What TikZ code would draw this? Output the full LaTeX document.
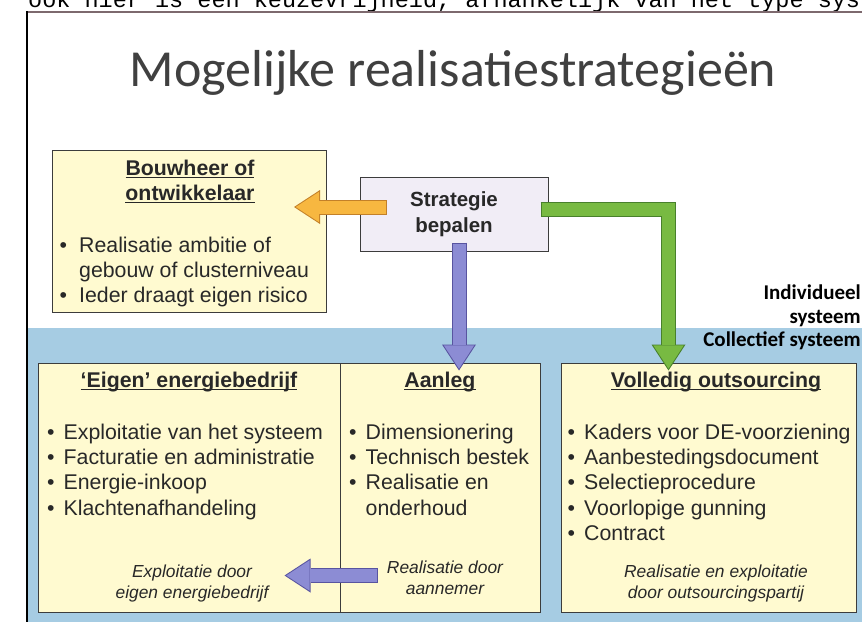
\documentclass[tikz,border=0pt]{standalone}
\usepackage{fontspec}
\setmainfont{Liberation Sans}
\newfontfamily\kopfont{Carlito}
\newfontfamily\typfont{Liberation Mono}
\usetikzlibrary{arrows.meta,positioning,calc}
\definecolor{bandblauw}{RGB}{166,204,227}
\definecolor{vakgeel}{RGB}{255,250,208}
\definecolor{vaklila}{RGB}{241,237,246}
\definecolor{vakrand}{RGB}{60,60,60}
\definecolor{tekstgrijs}{RGB}{40,40,40}
\definecolor{titelgrijs}{RGB}{64,64,64}
\definecolor{kaderrood}{RGB}{125,105,110}
\definecolor{oranje}{RGB}{247,183,64}
\definecolor{oranjerand}{RGB}{195,128,40}
\definecolor{paars}{RGB}{140,140,212}
\definecolor{paarsrand}{RGB}{88,84,160}
\definecolor{groen}{RGB}{120,186,66}
\definecolor{groenrand}{RGB}{72,128,44}
\newcommand{\punt}[1][16.5pt]{\makebox[#1][l]{\textbullet}}
\newcommand{\onder}[1]{\setbox0=\hbox{#1}\rlap{\rule[-2.6pt]{\wd0}{1.1pt}}\box0}
\tikzset{
  optievak/.style={
    draw=vakrand,
    fill=vakgeel,
    line width=1pt,
    inner sep=0pt
  },
  kopje/.style={
    inner sep=0pt,
    align=center,
    text=tekstgrijs,
    font=\bfseries\fontsize{21.3}{25.5}\selectfont
  },
  lijst/.style={
    anchor=north west,
    inner sep=0pt,
    align=left,
    text=tekstgrijs,
    font=\fontsize{21.3}{25.3}\selectfont
  },
  noot/.style={
    anchor=north,
    inner sep=0pt,
    align=center,
    text=tekstgrijs,
    font=\itshape\fontsize{17.4}{20.5}\selectfont
  },
  zijlabel/.style={
    anchor=base east,
    inner sep=0pt,
    text=black,
    font=\kopfont\bfseries\fontsize{21}{24}\selectfont
  },
  pijlrand/.style={
    draw=#1,
    line width=15pt,
    -{Triangle[length=26pt,width=34pt,line width=0pt]}
  },
  pijlvul/.style={
    draw=#1,
    line width=13pt,
    shorten >=1.83pt,
    shorten <=1pt,
    -{Triangle[length=23.2pt,width=30.3pt,line width=0pt]}
  }
}

\begin{document}
\begin{tikzpicture}[x=1pt,y=-1pt]
  \useasboundingbox (0,0) rectangle (862,622);

  % achtergrond en kader
  \fill[bandblauw] (28,328) rectangle (862,622);
  \draw[kaderrood,line width=2pt] (27,12) -- (862,12);
  \draw[black,line width=1.5pt] (27,11) -- (27,622);
  \begin{scope}
    \clip (0,0) rectangle (862,10);
    \node[anchor=base west,inner sep=0pt,font=\typfont\fontsize{23.5}{24}\selectfont] (boventekst) at (28,7)
      {ook hier is een keuzevrijheid, afhankelijk van het type sys};
  \end{scope}

  \node[text=titelgrijs,font=\kopfont\fontsize{52}{60}\selectfont,anchor=base] (titel) at (453,86)
    {Mogelijke realisatiestrategieën};

  % vakken
  \node[optievak,minimum width=274pt,minimum height=162pt] (bouw) at (189.5,231) {};
  \node[optievak,fill=vaklila,minimum width=188pt,minimum height=74pt,
        align=center,text=tekstgrijs,font=\bfseries\fontsize{20.5}{26}\selectfont] (strat) at (454,214)
    {Strategie\\bepalen};
  \node[optievak,minimum width=302pt,minimum height=249pt] (eigen) at (189,487.5) {};
  \node[optievak,minimum width=200pt,minimum height=249pt] (aanleg) at (440,487.5) {};
  \node[optievak,minimum width=295pt,minimum height=249pt] (voll) at (708.5,487.5) {};

  % pijlen
  \coordinate (oranje-start) at ($(strat.west)+(27,-7)$);
  \coordinate (oranje-punt) at ($(bouw.east)+(-33,-24)$);
  \coordinate (paars-start) at ($(strat.south)+(5,-9)$);
  \coordinate (paars-punt) at ($(aanleg.north)+(19,8)$);
  \coordinate (groen-start) at ($(strat.east)+(-8,-5)$);
  \coordinate (groen-punt) at ($(voll.north west)+(108,8)$);
  \coordinate (onder-start) at ($(aanleg.south west)+(38,-37)$);
  \coordinate (onder-punt) at ($(eigen.south east)+(-56,-37)$);
  \draw[pijlrand=oranjerand] (oranje-start) -- (oranje-punt);
  \draw[pijlvul=oranje] (oranje-start) -- (oranje-punt);
  \draw[pijlrand=paarsrand] (paars-start) -- (paars-punt);
  \draw[pijlvul=paars] (paars-start) -- (paars-punt);
  \draw[pijlrand=groenrand] (groen-start) -| (groen-punt);
  \draw[pijlvul=groen] (groen-start) -| (groen-punt);
  \draw[pijlrand=paarsrand] (onder-start) -- (onder-punt);
  \draw[pijlvul=paars] (onder-start) -- (onder-punt);

  % teksten
  \node[kopje,anchor=north] (bouw-kop) at (190,157.3) {\strut\onder{Bouwheer of}\\\onder{ontwikkelaar}};
  \node[lijst] (bouw-lijst) at (59.5,234.3)
    {\strut\punt[19.5pt]Realisatie ambitie of\\\hspace*{19.5pt}gebouw of clusterniveau\\\punt[19.5pt]Ieder draagt eigen risico};

  \node[kopje,anchor=north] (eigen-kop) at (189,369.3) {\strut\onder{‘Eigen’ energiebedrijf}};
  \node[kopje,anchor=north] (aanleg-kop) at (440,369.3) {\strut\onder{Aanleg}};
  \node[kopje,anchor=north] (voll-kop) at (716,369.3) {\strut\onder{Volledig outsourcing}};

  \node[lijst] (eigen-lijst) at (47,421.3)
    {\strut\punt Exploitatie van het systeem\\\punt Facturatie en administratie\\\punt Energie-inkoop\\\punt Klachtenafhandeling};
  \node[lijst] (aanleg-lijst) at (349,421.3)
    {\strut\punt Dimensionering\\\punt Technisch bestek\\\punt Realisatie en\\\hspace*{16.5pt}onderhoud};
  \node[lijst] (voll-lijst) at (567.5,421.3)
    {\strut\punt Kaders voor DE-voorziening\\\punt Aanbestedingsdocument\\\punt Selectieprocedure\\\punt Voorlopige gunning\\\punt Contract};

  \node[noot] (eigen-noot) at (192,563) {\strut Exploitatie door\\eigen energiebedrijf};
  \node[noot] (aanleg-noot) at (445,559) {\strut Realisatie door\\aannemer};
  \node[noot] (voll-noot) at (716,563) {\strut Realisatie en exploitatie\\door outsourcingspartij};

  \node[zijlabel] (indiv1) at (861,299) {Individueel};
  \node[zijlabel] (indiv2) at (861,323) {systeem};
  \node[zijlabel] (coll) at (861,346) {Collectief systeem};
\end{tikzpicture}
\end{document}
